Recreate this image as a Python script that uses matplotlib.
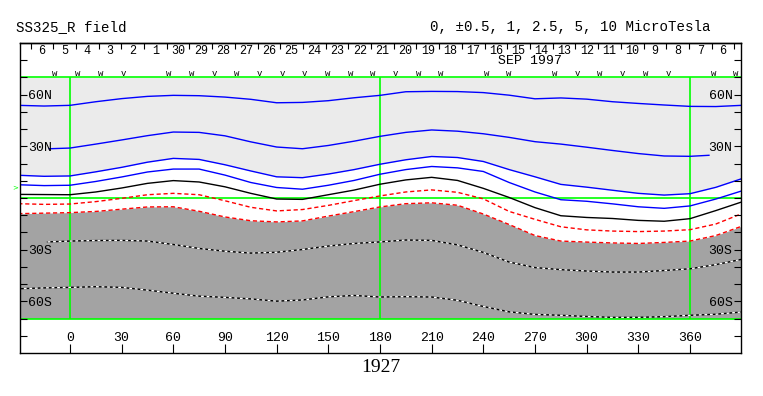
import numpy as np
import matplotlib
matplotlib.use("Agg")
import matplotlib.pyplot as plt

# ---------------- data ----------------
lon = [-30, -15, 0, 15, 30, 45, 60, 75, 90, 105, 120, 135, 150, 165, 180,
       195, 210, 225, 240, 255, 270, 285, 300, 315, 330, 345, 360, 375, 390]

lat_p5 = [53.8, 53.4, 53.8, 55.9, 57.7, 59.0, 59.6, 59.4, 58.6, 57.3, 55.3, 55.5,
          56.5, 58.2, 59.6, 61.7, 61.9, 61.8, 61.2, 59.7, 57.6, 58.1, 57.4, 55.9,
          54.9, 54.0, 53.2, 53.1, 53.8]

lon_p25 = [-12, 0, 15, 30, 45, 60, 75, 90, 105, 120, 135, 150, 165, 180,
           195, 210, 225, 240, 255, 270, 285, 300, 315, 330, 345, 360, 371]
lat_p25 = [28.6, 29.0, 31.3, 33.7, 36.2, 38.3, 38.1, 36.1, 32.6, 29.6, 28.6, 30.5,
           33.0, 35.8, 38.1, 39.5, 38.8, 37.3, 35.2, 32.7, 31.3, 29.5, 27.6, 25.8,
           24.4, 24.2, 24.8]

lat_p1 = [13.2, 12.6, 12.8, 15.2, 17.8, 20.8, 23.0, 22.4, 19.3, 15.7, 12.3, 11.8,
          13.9, 16.5, 19.6, 22.2, 24.1, 23.5, 21.2, 16.5, 12.3, 7.9, 6.3, 4.5,
          2.7, 1.7, 2.5, 6.2, 11.2]

lat_p05 = [7.7, 7.2, 7.4, 9.6, 12.2, 15.1, 16.8, 16.8, 13.3, 9.0, 6.1, 5.1,
           7.4, 10.2, 13.8, 16.5, 18.3, 17.5, 15.4, 9.0, 3.5, -1.0, -1.9, -3.4,
           -5.1, -6.0, -4.6, -0.6, 4.1]

lat_0 = [2.1, 2.0, 1.9, 3.5, 5.8, 8.5, 10.1, 9.3, 6.5, 2.7, -0.6, -0.8,
         1.9, 4.6, 8.0, 10.5, 12.0, 10.2, 5.6, 0.3, -5.6, -10.3, -11.3, -11.9,
         -13.0, -13.5, -12.0, -7.3, -2.3]

lat_m05 = [-3.3, -3.7, -3.5, -2.1, -0.2, 1.9, 2.7, 1.9, -1.6, -5.4, -7.5, -6.7,
           -4.3, -1.5, 1.2, 3.5, 4.7, 3.3, -0.5, -7.8, -12.4, -16.7, -18.5, -19.2,
           -19.5, -19.2, -18.4, -15.1, -9.1]

lat_m1 = [-9.1, -8.8, -8.5, -7.8, -6.5, -5.2, -5.1, -7.7, -11.0, -13.2, -13.9, -13.3,
          -10.5, -7.9, -5.2, -3.3, -2.8, -4.2, -9.3, -15.4, -21.8, -25.0, -25.6, -26.1,
          -26.4, -25.8, -25.0, -21.8, -16.4]

lon_m25 = [-13, 0, 15, 30, 45, 60, 75, 90, 105, 120, 135, 150, 165, 180,
           195, 210, 225, 240, 255, 270, 285, 300, 315, 330, 345, 360, 375, 390]
lat_m25 = [-25.5, -25.0, -24.7, -24.6, -25.0, -27.0, -29.3, -30.9, -32.0, -31.5, -29.9,
           -27.9, -26.4, -25.5, -24.4, -24.6, -27.2, -31.6, -37.2, -40.4, -41.6, -42.4,
           -43.0, -43.0, -42.1, -41.1, -38.7, -35.6]

lat_m5 = [-52.7, -52.2, -51.9, -51.5, -51.9, -53.5, -55.3, -57.0, -57.7, -58.6, -59.9,
          -59.2, -57.4, -56.6, -57.5, -57.3, -57.5, -59.4, -63.0, -66.1, -67.6, -68.1,
          -68.8, -69.3, -69.3, -68.9, -68.1, -67.5, -66.2]

lon_ticks = [0, 30, 60, 90, 120, 150, 180, 210, 240, 270, 300, 330, 360]
lat_ticks = [-80, -70, -60, -50, -40, -30, -20, -10, 0, 10, 20, 30, 40, 50, 60, 70, 80]
lat_tick_labels = ['', '', '60S', '', '', '30S', '', '', '', '', '', '30N', '', '', '60N', '', '']

day_labels = ['6', '5', '4', '3', '2', '1', '30', '29', '28', '27', '26', '25', '24',
              '23', '22', '21', '20', '19', '18', '17', '16', '15', '14', '13', '12',
              '11', '10', '9', '8', '7', '6']
day_lon = [-16.3, -3.1, 10.1, 23.3, 36.5, 49.6, 62.8, 76.0, 89.2, 102.4, 115.5, 128.7,
           141.9, 155.1, 168.3, 181.4, 194.6, 207.8, 221.0, 234.2, 247.3, 260.5, 273.7,
           286.9, 300.1, 313.2, 326.4, 339.6, 352.8, 366.0, 379.1]
sector_marks = ['w', 'w', 'w', 'v', '', 'w', 'w', 'v', 'w', 'v', 'v', 'v', 'w', 'w', 'w',
                'v', 'w', 'w', '', 'w', 'w', '', 'w', 'v', 'w', 'v', 'w', 'v', '', 'w', 'w']

# ---------------- figure ----------------
W, H = 763, 396
fig = plt.figure(figsize=(W / 100, H / 100), dpi=100)
ax = fig.add_axes([20 / W, 43 / H, 721 / W, 310 / H])
ax.set_xlim(-29.0, 389.6)
ax.set_ylim(-90, 90)
ax.set_axisbelow(False)

mono = 'Liberation Mono'
LIGHT = '#ebebeb'
DARK = '#a3a3a3'
GREEN = '#00ff00'

# shading
ax.fill_between(lon, lat_p1, 70, color=LIGHT, lw=0, zorder=0.5)
ax.fill_between(lon, -70, lat_m1, color=DARK, lw=0, zorder=0.5)

# contours
lw = 1.0
ax.plot(lon, lat_p5, color='#0000ff', lw=lw)
ax.plot(lon_p25, lat_p25, color='#0000ff', lw=lw)
ax.plot(lon, lat_p1, color='#0000ff', lw=lw)
ax.plot(lon, lat_p05, color='#0000ff', lw=lw)
ax.plot(lon, lat_0, color='black', lw=lw)
ax.plot(lon, lat_m05, color='red', lw=lw, ls=(0, (3, 2)))
ax.plot(lon, lat_m1, color='red', lw=lw, ls=(0, (3, 2)))
for lo, la in ((lon_m25, lat_m25), (lon, lat_m5)):
    ax.plot(lo, la, color='black', lw=lw)
    ax.plot(lo, la, color='white', lw=lw, ls=(0, (2, 2)))

# green reference lines
for y in (70, 0, -70):
    ax.axhline(y, color=GREEN, lw=1.2, zorder=1.8)
ax.vlines([0, 180, 360], -70, 70, color=GREEN, lw=1.2, zorder=1.8)

# axes styling
for s in ax.spines.values():
    s.set_linewidth(1.0)

ax.set_xticks(lon_ticks)
ax.set_xticklabels([str(v) for v in lon_ticks], fontfamily=mono, fontsize=9.5)
ax.tick_params(axis='x', which='major', direction='in', length=6.5, width=0.8,
               bottom=True, top=False, pad=-15)

ax.set_yticks(lat_ticks)
ax.set_yticklabels(lat_tick_labels, fontfamily=mono, fontsize=9.5)
ax.tick_params(axis='y', which='major', direction='in', length=5, width=0.8,
               left=True, right=True, labelleft=True, labelright=True, pad=-6)
for t in ax.yaxis.get_major_ticks():
    t.label1.set_horizontalalignment('left')
    t.label2.set_horizontalalignment('right')
    t.label1.set_fontfamily(mono)
    t.label2.set_fontfamily(mono)
    t.label2.set_fontsize(9.5)

# top date strip
day_lon_a = np.array(day_lon)
step = day_lon_a[1] - day_lon_a[0]
bounds = np.concatenate([[day_lon_a[0] - step / 2],
                         (day_lon_a[:-1] + day_lon_a[1:]) / 2,
                         [day_lon_a[-1] + step / 2]])
sec = ax.secondary_xaxis('top')
sec.set_xticks(bounds, labels=[''] * len(bounds))
sec.set_xticks(day_lon, labels=day_labels, minor=True)
sec.tick_params(which='major', direction='in', length=4.5, width=0.8)
sec.tick_params(which='minor', length=0, pad=-9.8, labelsize=8.5)
for lab in sec.get_xticklabels(minor=True):
    lab.set_fontfamily(mono)
sec.spines['top'].set_linewidth(1.0)

for b, m in zip(bounds[1:], sector_marks):
    if m:
        ax.text(b + 1.0, 72.3, m, fontfamily=mono, fontsize=6.5, ha='center',
                va='center', color='black', clip_on=True)

ax.text((530 - 70) / 1.7222, 79.4, 'SEP 1997', fontfamily=mono, fontsize=9.5,
        ha='center', va='center')

# small green marker at the left edge
ax.text(-31.6, 6.4, '>', color=GREEN, fontsize=5, ha='center', va='center',
        clip_on=False)

# header and footer
fig.text(16 / W, 1 - 27 / H, 'SS325_R field', fontfamily=mono, fontsize=10.2,
         ha='left', va='center')
fig.text(430 / W, 1 - 27 / H, '0, \u00b10.5, 1, 2.5, 5, 10 MicroTesla',
         fontfamily=mono, fontsize=10.2, ha='left', va='center')
fig.text(381 / W, 1 - 367 / H, '1927', fontfamily='Liberation Serif', fontsize=14,
         ha='center', va='center')

fig.savefig('out.png', dpi=100, facecolor='white')
